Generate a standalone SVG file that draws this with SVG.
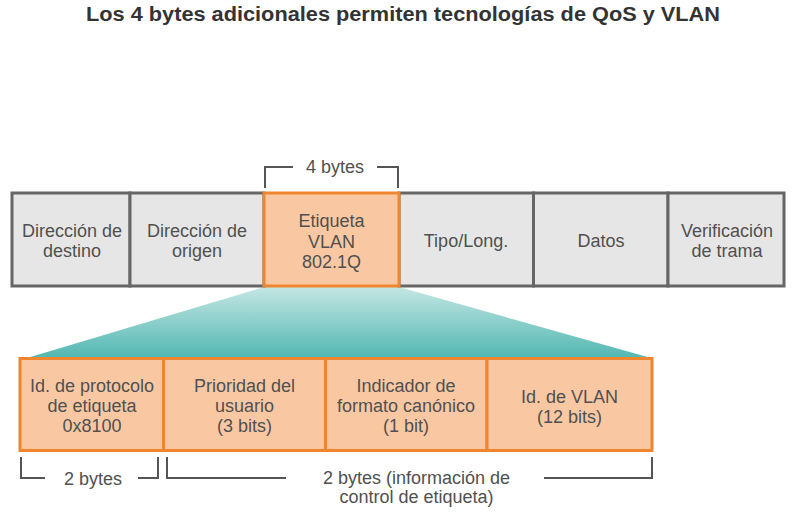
<svg xmlns="http://www.w3.org/2000/svg" width="796" height="516" viewBox="0 0 796 516">
<defs>
<linearGradient id="teal" x1="0" y1="0" x2="0" y2="1">
<stop offset="0" stop-color="#c4e6e3"/>
<stop offset="1" stop-color="#52b7b2"/>
</linearGradient>
<style>
.t{font-family:"Liberation Sans",Arial,sans-serif;font-size:18px;fill:#505050;text-anchor:middle}
.title{font-family:"Liberation Sans",Arial,sans-serif;font-size:19.5px;font-weight:bold;fill:#333333;text-anchor:middle}
.g{fill:#e7e6e6;stroke:#666666;stroke-width:3}
.o{fill:#f9c8a3;stroke:#f0852f;stroke-width:3}
.br{fill:none;stroke:#555555;stroke-width:2}
</style>
</defs>
<rect width="796" height="516" fill="#ffffff"/>
<text class="title" x="403" y="21" textLength="634" lengthAdjust="spacingAndGlyphs">Los 4 bytes adicionales permiten tecnologías de QoS y VLAN</text>

<g id="expansion">
<polygon points="264,287 399,287 651,358 27,358" fill="url(#teal)"/>
</g>

<g id="frame">
<g id="f-destino"><rect class="g" x="12" y="193" width="118" height="93"/>
<text class="t" x="72" y="236.5">Dirección de</text><text class="t" x="72" y="256.5">destino</text></g>
<g id="f-origen"><rect class="g" x="130" y="193" width="134" height="93"/>
<text class="t" x="197" y="236.5">Dirección de</text><text class="t" x="197" y="256.5">origen</text></g>
<g id="f-tipo"><rect class="g" x="399" y="193" width="134.5" height="93"/>
<text class="t" x="466" y="246.5">Tipo/Long.</text></g>
<g id="f-datos"><rect class="g" x="533.5" y="193" width="134.5" height="93"/>
<text class="t" x="601" y="246.5">Datos</text></g>
<g id="f-fcs"><rect class="g" x="668" y="193" width="116" height="93"/>
<text class="t" x="727" y="236.5">Verificación</text><text class="t" x="727" y="256.5">de trama</text></g>
<g id="f-vlan"><rect class="o" x="264" y="193" width="135" height="93"/>
<text class="t" x="331.5" y="227">Etiqueta</text><text class="t" x="331.5" y="247.5">VLAN</text><text class="t" x="331.5" y="267.5">802.1Q</text></g>
</g>

<g id="tag">
<g id="tpid"><rect class="o" x="20" y="358.5" width="143.5" height="92"/>
<text class="t" x="92" y="392">Id. de protocolo</text><text class="t" x="92" y="412">de etiqueta</text><text class="t" x="92" y="432">0x8100</text></g>
<g id="pcp"><rect class="o" x="163.5" y="358.5" width="162" height="92"/>
<text class="t" x="244.5" y="392">Prioridad del</text><text class="t" x="244.5" y="412">usuario</text><text class="t" x="244.5" y="432">(3 bits)</text></g>
<g id="cfi"><rect class="o" x="325.5" y="358.5" width="161.5" height="92"/>
<text class="t" x="406" y="392">Indicador de</text><text class="t" x="406" y="412">formato canónico</text><text class="t" x="406" y="432">(1 bit)</text></g>
<g id="vid"><rect class="o" x="487" y="358.5" width="165" height="92"/>
<text class="t" x="569.5" y="402.5">Id. de VLAN</text><text class="t" x="569.5" y="422.5">(12 bits)</text></g>
</g>

<g id="brackets">
<polyline class="br" points="265,188 265,167 293,167"/>
<polyline class="br" points="377,167 398,167 398,188"/>
<text class="t" x="335" y="173">4 bytes</text>
<polyline class="br" points="21,457 21,478 45,478"/>
<polyline class="br" points="138,478 158,478 158,457"/>
<text class="t" x="93" y="484.5">2 bytes</text>
<polyline class="br" points="167,457 167,478 286,478"/>
<polyline class="br" points="544,478 652,478 652,457"/>
<text class="t" x="416.5" y="484">2 bytes (información de</text>
<text class="t" x="416.5" y="503">control de etiqueta)</text>
</g>
</svg>
